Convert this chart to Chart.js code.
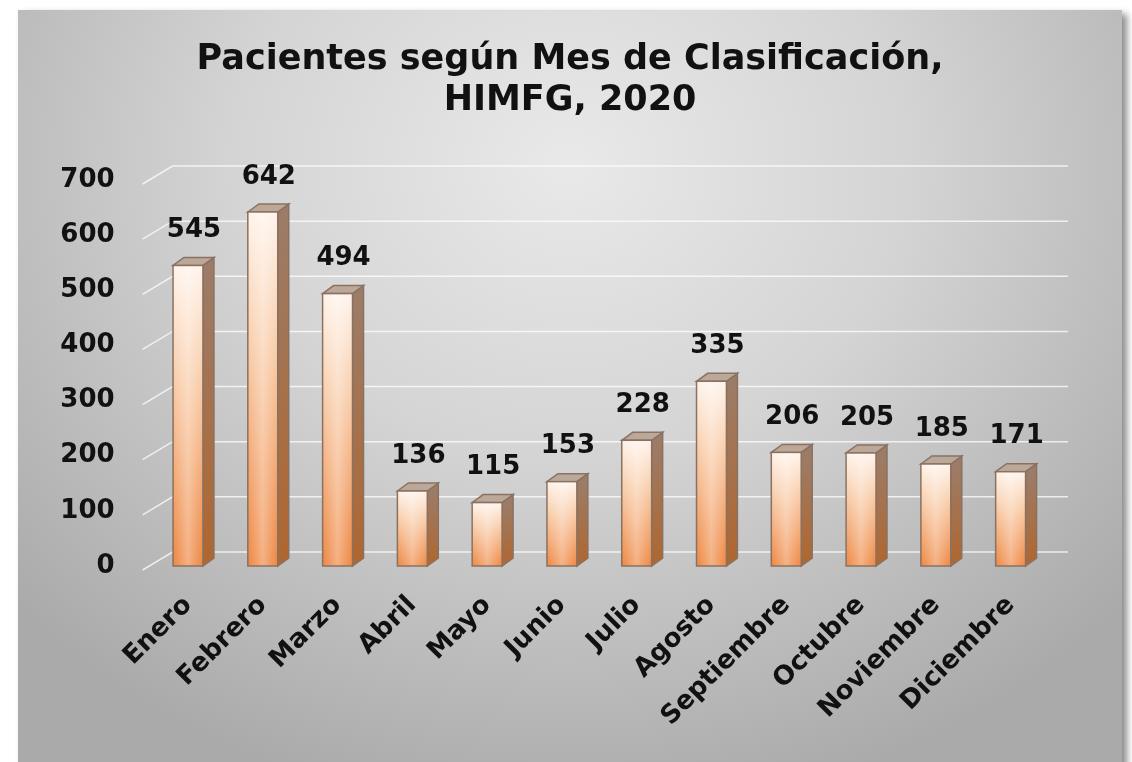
<!DOCTYPE html>
<html>
<head>
<meta charset="utf-8">
<script src="https://cdn.jsdelivr.net/npm/chart.js@4"></script>
<style>
  html, body { margin: 0; padding: 0; background: #fff; overflow: hidden; }
  #box {
    position: absolute; left: 18px; top: 10px; width: 1104px; height: 770px;
    background: radial-gradient(ellipse 68% 85% at 50% 20%, #e9e9e9 0%, #d4d4d4 45%, #aaaaaa 100%);
    box-shadow: 5px 4px 7px rgba(0,0,0,0.45);
  }
  #chart { position: absolute; left: 0; top: 0; }
</style>
</head>
<body>
<div id="box"></div>
<canvas id="chart" width="1132" height="762"></canvas>
<script>
// datos del gráfico
const meses = ['Enero', 'Febrero', 'Marzo', 'Abril', 'Mayo', 'Junio', 'Julio', 'Agosto',
  'Septiembre', 'Octubre', 'Noviembre', 'Diciembre'];
const pacientes = [545, 642, 494, 136, 115, 153, 228, 335, 206, 205, 185, 171];
const tituloLineas = ['Pacientes según Mes de Clasificación,', 'HIMFG, 2020'];
const FONT = "'DejaVu Sans', sans-serif";

// profundidad del efecto 3D
const DX = 11, DY = -8;

// título centrado en el recuadro (no en el área de trazado)
const titlePlugin = {
  id: 'titulo',
  afterDraw(chart) {
    const { ctx } = chart;
    ctx.save();
    ctx.fillStyle = '#111';
    ctx.font = 'bold 35px ' + FONT;
    ctx.textAlign = 'center';
    ctx.textBaseline = 'middle';
    tituloLineas.forEach((t, i) => ctx.fillText(t, 570, 60 + i * 41));
    ctx.restore();
  }
};

// líneas de la cuadrícula (pared trasera)
const gridPlugin = {
  id: 'grid3d',
  beforeDatasetsDraw(chart) {
    const { ctx, chartArea, scales } = chart;
    ctx.save();
    ctx.strokeStyle = 'rgba(255,255,255,0.75)';
    ctx.lineWidth = 1.5;
    scales.y.ticks.forEach(t => {
      const y = scales.y.getPixelForValue(t.value);
      ctx.beginPath();
      ctx.moveTo(chartArea.left - 8, y + 4);
      ctx.lineTo(chartArea.left + 22, y - 14);
      ctx.lineTo(chartArea.right + 20, y - 14);
      ctx.stroke();
    });
    ctx.restore();
  }
};

// barras 3D + etiquetas
const bar3dPlugin = {
  id: 'bar3d',
  afterDatasetsDraw(chart) {
    const { ctx } = chart;
    const meta = chart.getDatasetMeta(0);
    ctx.save();
    meta.data.forEach((bar, i) => {
      const w = bar.width;
      const x0 = bar.x - w / 2, x1 = bar.x + w / 2;
      const top = bar.y, base = bar.base;

      // cara lateral
      let g = ctx.createLinearGradient(0, top, 0, base);
      g.addColorStop(0, '#9c7c68');
      g.addColorStop(1, '#b0662e');
      ctx.fillStyle = g;
      ctx.beginPath();
      ctx.moveTo(x1, top);
      ctx.lineTo(x1 + DX, top + DY);
      ctx.lineTo(x1 + DX, base + DY);
      ctx.lineTo(x1, base);
      ctx.closePath();
      ctx.fill();
      ctx.strokeStyle = '#8a7262';
      ctx.lineWidth = 1.5;
      ctx.stroke();

      // cara superior
      ctx.fillStyle = '#bca898';
      ctx.beginPath();
      ctx.moveTo(x0, top);
      ctx.lineTo(x0 + DX, top + DY);
      ctx.lineTo(x1 + DX, top + DY);
      ctx.lineTo(x1, top);
      ctx.closePath();
      ctx.fill();
      ctx.stroke();

      // cara frontal
      g = ctx.createLinearGradient(0, top, 0, base);
      g.addColorStop(0, '#fff3ea');
      g.addColorStop(0.35, '#f9cfad');
      g.addColorStop(1, '#ee8640');
      ctx.fillStyle = g;
      ctx.fillRect(x0, top, w, base - top);
      g = ctx.createLinearGradient(x0, 0, x1, 0);
      g.addColorStop(0, 'rgba(255,255,255,0)');
      g.addColorStop(0.5, 'rgba(255,255,255,0.35)');
      g.addColorStop(1, 'rgba(255,255,255,0)');
      ctx.fillStyle = g;
      ctx.fillRect(x0, top, w, base - top);
      ctx.strokeRect(x0, top, w, base - top);

      // etiqueta
      ctx.fillStyle = '#111';
      ctx.font = 'bold 26px ' + FONT;
      ctx.textAlign = 'center';
      ctx.textBaseline = 'bottom';
      ctx.fillText(pacientes[i], bar.x + 6, top + DY - 14);
    });
    ctx.restore();
  }
};

new Chart(document.getElementById('chart'), {
  type: 'bar',
  data: {
    labels: meses,
    datasets: [{
      data: pacientes,
      backgroundColor: 'rgba(0,0,0,0)',
      borderWidth: 0,
      barPercentage: 0.4,
      categoryPercentage: 1
    }]
  },
  options: {
    responsive: false,
    animation: false,
    devicePixelRatio: 1,
    layout: { padding: { left: 0, right: 84, top: 180, bottom: 0 } },
    plugins: {
      legend: { display: false },
      tooltip: { enabled: false },
      title: { display: false }
    },
    scales: {
      y: {
        min: 0,
        max: 700,
        ticks: { stepSize: 100, color: '#111', padding: 36, font: { family: FONT, size: 26, weight: 'bold' } },
        grid: { display: false, drawTicks: false },
        border: { display: false },
        afterFit: s => { s.width = 150.6; }
      },
      x: {
        ticks: { color: '#111', minRotation: 45, maxRotation: 45, padding: 24, font: { family: FONT, size: 26, weight: 'bold' } },
        grid: { display: false, drawTicks: false },
        border: { display: false },
        afterFit: s => { s.height = 196; }
      }
    }
  },
  plugins: [gridPlugin, bar3dPlugin, titlePlugin]
});
</script>
</body>
</html>
